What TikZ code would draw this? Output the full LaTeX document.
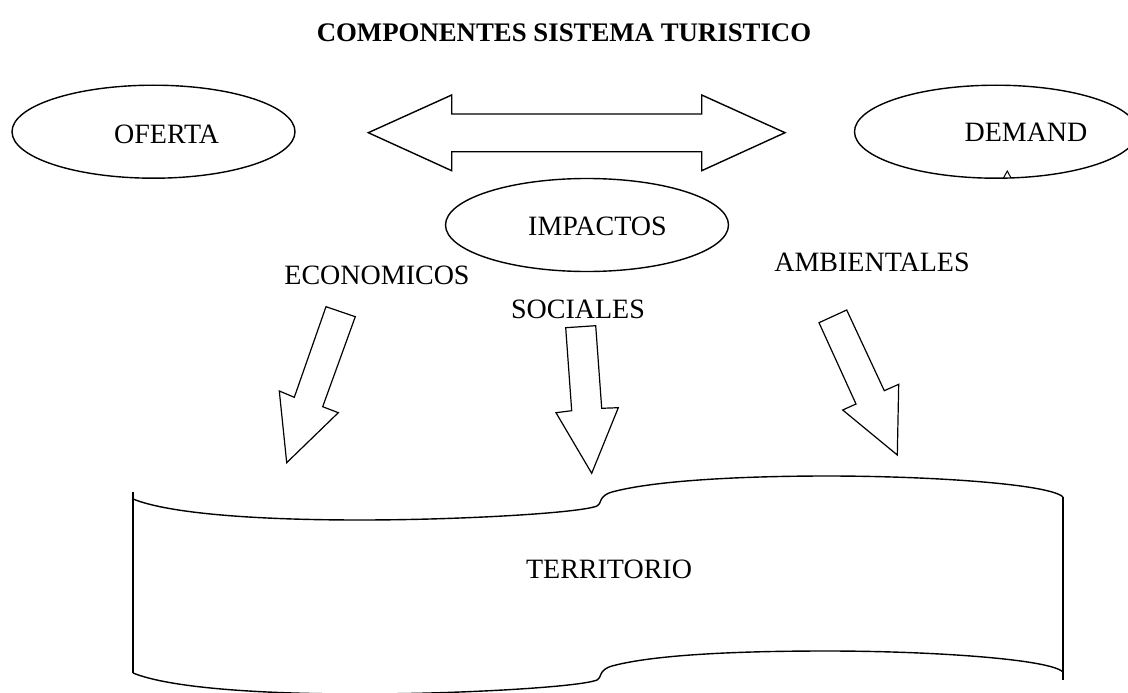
\documentclass[tikz,border=0pt]{standalone}
\usepackage{fontspec}
\setmainfont{Liberation Serif}
\usetikzlibrary{shapes.geometric}
\begin{document}
\begin{tikzpicture}[x=1pt,y=-1pt,
  outl/.style={draw=black,line width=1.4pt,line join=miter},
  oval/.style={ellipse,draw=black,line width=1.4pt,inner sep=0pt,minimum width=283pt,minimum height=93pt},
  lbl/.style={anchor=base,inner sep=0pt,font=\fontsize{28}{30}\selectfont},
  ttl/.style={anchor=base,inner sep=0pt,font=\fontsize{26.8}{30}\selectfont\bfseries}]
\clip (0,0) rectangle (1128,693);
\fill[white] (0,0) rectangle (1128,693);
% title
\node[ttl] (title) at (564,42) {COMPONENTES SISTEMA TURISTICO};
% ellipses
\node[oval] (oferta) at (153.5,131.7) {};
\node[oval] (demanda) at (996,131.7) {};
\node[oval] (impactos) at (587,225) {};
\node[lbl] (tof) at (166.7,143.3) {OFERTA};
\node[lbl] (tdem) at (1026,141.7) {DEMAND};
\node[lbl] (timp) at (597.5,235) {IMPACTOS};
% small caret under DEMAND
\draw[line width=1pt] (1003.5,178) -- (1007.3,171) -- (1011,178);
% double arrow
\draw[outl] (368.3,132.7) -- (451.7,95) -- (451.7,114) -- (701.7,114) -- (701.7,95)
  -- (785,132.7) -- (701.7,170.7) -- (701.7,151.7) -- (451.7,151.7) -- (451.7,170.7) -- cycle;
% labels
\node[lbl] (eco) at (377,284) {ECONOMICOS};
\node[lbl] (soc) at (578,318) {SOCIALES};
\node[lbl] (amb) at (872,271) {AMBIENTALES};
% block arrows
\draw[outl,line width=1.2pt] (326,306.7) -- (355.3,316.7) -- (322.7,406.7) -- (338.3,412.7)
  -- (286.7,462.7) -- (279.3,391) -- (294.3,397.3) -- cycle;
\draw[outl,line width=1.2pt] (565.7,327.7) -- (595.7,325.7) -- (601.7,408.3) -- (618.3,407.7)
  -- (591.7,473.3) -- (556,412.7) -- (571.7,410.7) -- cycle;
\draw[outl,line width=1.2pt] (819,322.7) -- (846.7,310) -- (884.3,390.7) -- (898.7,384.3)
  -- (897.3,455) -- (842.7,410) -- (856,404) -- cycle;
% territorio wave
\draw[line width=1.4pt] (133,492) -- (133,673);
\draw[line width=1.4pt] (1063,497) -- (1063,680);
\draw[line width=1.4pt] (133,499) .. controls (170,514) and (260,520) .. (360,520)
  .. controls (460,520) and (580,513) .. (597,506)
  .. controls (602,504) and (598,496) .. (612,492)
  .. controls (660,479) and (760,476) .. (827,476)
  .. controls (930,476) and (1050,484) .. (1063,497);
\draw[line width=1.4pt] (133,673) .. controls (170,688) and (260,694) .. (360,694)
  .. controls (460,694) and (580,687) .. (597,680)
  .. controls (602,678) and (598,670) .. (612,666)
  .. controls (660,653) and (760,651) .. (827,651)
  .. controls (930,651) and (1050,659) .. (1063,672);
\node[lbl] (terr) at (609,578) {TERRITORIO};
\end{tikzpicture}
\end{document}
